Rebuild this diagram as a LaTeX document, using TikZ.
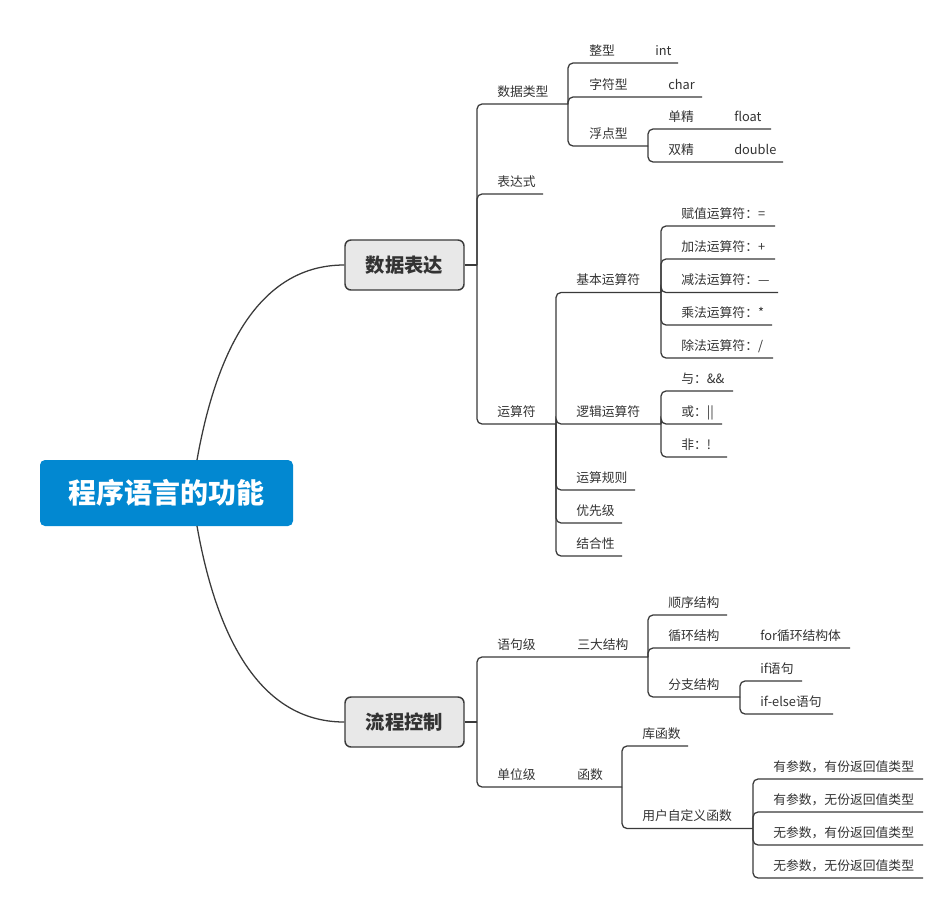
\documentclass[tikz,border=0pt]{standalone}
\usepackage{fontspec}
\setmainfont{Noto Sans CJK SC}
\definecolor{txt}{HTML}{333333}
\definecolor{ln}{HTML}{3A3A3A}
\definecolor{rootblue}{RGB}{2,136,209}
\definecolor{boxgray}{HTML}{E8E8E8}
\tikzset{
  lbl/.style={anchor=west, inner sep=0pt, text height=8.4pt, text depth=1.2pt,
    font=\fontsize{9.6}{11}\selectfont, text=txt},
  conn/.style={draw=ln, line width=0.95pt, rounded corners=3.75pt},
  rootbox/.style={fill=rootblue, rounded corners=3.75pt, minimum width=189.75pt,
    minimum height=49.5pt, inner sep=0pt, text=white, font=\fontsize{21}{24}\selectfont\bfseries},
  mainbox/.style={fill=boxgray, draw=ln, line width=1.1pt, rounded corners=4.5pt,
    minimum width=89.25pt, minimum height=37.5pt, inner sep=0pt, text=txt,
    font=\fontsize{14.5}{17}\selectfont\bfseries}
}
% name, text x, line y, line end x, text
\newcommand\tp[5]{%
  \node[lbl] (#1) at (#2,#3-12.5) {#5};
  \coordinate (#1-e) at (#4,#3);}
\begin{document}
\begin{tikzpicture}[x=0.75pt,y=-0.75pt]
\useasboundingbox[fill=white] (0,0) rectangle (945,904);

% root and main boxes
\node[rootbox] (root) at (166.5,493) {程序语言的功能};
\node[mainbox] (b1) at (404.5,265) {数据表达};
\node[mainbox] (b2) at (404.5,722) {流程控制};
\coordinate (rt) at (197,460);
\coordinate (rb) at (197,526);
\draw[conn] (rt) .. controls (220,330) and (270,265) .. (b1.west);
\draw[conn] (rb) .. controls (220,656) and (270,722) .. (b2.west);
\coordinate (j1) at (477,265);
\coordinate (j2) at (477,722);
\draw[conn] (b1.east) -- (j1);
\draw[conn] (b2.east) -- (j2);

% ===== 数据表达 =====
\tp{dt}{497}{104}{568}{数据类型}
\tp{bds}{497}{194}{543}{表达式}
\tp{ysf}{497}{424}{556}{运算符}
\foreach \c in {dt,bds,ysf} \draw[conn] (j1) |- (\c-e);

\tp{zx}{589}{63}{678}{整型}
\tp{zfx}{589}{97}{702}{字符型}
\tp{fdx}{589}{146}{648}{浮点型}
\foreach \c in {zx,zfx,fdx} \draw[conn] (dt-e) |- (\c-e);
\node[lbl] (int) at (655,50.5) {int};
\node[lbl] (char) at (668,84.5) {char};

\tp{dj}{668}{129}{771}{单精}
\tp{sj}{668}{162}{783}{双精}
\foreach \c in {dj,sj} \draw[conn] (fdx-e) |- (\c-e);
\node[lbl] (float) at (734,116.5) {float};
\node[lbl] (double) at (734,149.5) {double};

\tp{jb}{576}{292.5}{661}{基本运算符}
\tp{lj}{576}{424}{661}{逻辑运算符}
\tp{gz}{576}{490}{635}{运算规则}
\tp{yxj}{576}{523}{622}{优先级}
\tp{jhx}{576}{556}{622}{结合性}
\foreach \c in {jb,lj,gz,yxj,jhx} \draw[conn] (ysf-e) |- (\c-e);

\tp{fzy}{681}{226}{775}{赋值运算符：=}
\tp{jfy}{681}{259}{775}{加法运算符：+}
\tp{jny}{681}{292.5}{778}{减法运算符：—}
\tp{cfy}{681}{325}{772}{乘法运算符：*}
\tp{chy}{681}{358}{773}{除法运算符：/}
\foreach \c in {fzy,jfy,jny,cfy,chy} \draw[conn] (jb-e) |- (\c-e);

\tp{yu}{681}{391}{733}{与：\&\&}
\tp{huo}{681}{424}{722}{或：||}
\tp{fei}{681}{457}{727}{非：!}
\foreach \c in {yu,huo,fei} \draw[conn] (lj-e) |- (\c-e);

% ===== 流程控制 =====
\tp{yjj}{497}{657}{648}{语句级}
\tp{dwj}{497}{787}{622}{单位级}
\foreach \c in {yjj,dwj} \draw[conn] (j2) |- (\c-e);
\node[lbl] (sdjg) at (577,644.5) {三大结构};
\node[lbl] (hs) at (577,774.5) {函数};

\tp{sx}{668}{615}{727}{顺序结构}
\tp{xh}{668}{648}{850}{循环结构}
\tp{fzj}{668}{697}{740}{分支结构}
\foreach \c in {sx,xh,fzj} \draw[conn] (yjj-e) |- (\c-e);
\node[lbl] (forx) at (760,635.5) {for循环结构体};

\tp{ifs}{760}{681}{802}{if语句}
\tp{ifel}{760}{714}{833}{if-else语句}
\foreach \c in {ifs,ifel} \draw[conn] (fzj-e) |- (\c-e);

\tp{khs}{642}{746}{688}{库函数}
\tp{zdy}{642}{828.5}{753}{用户自定义函数}
\foreach \c in {khs,zdy} \draw[conn] (dwj-e) |- (\c-e);

\tp{p1}{773}{779}{923}{有参数，有份返回值类型}
\tp{p2}{773}{812}{923}{有参数，无份返回值类型}
\tp{p3}{773}{845}{923}{无参数，有份返回值类型}
\tp{p4}{773}{878}{923}{无参数，无份返回值类型}
\foreach \c in {p1,p2,p3,p4} \draw[conn] (zdy-e) |- (\c-e);
\end{tikzpicture}
\end{document}
